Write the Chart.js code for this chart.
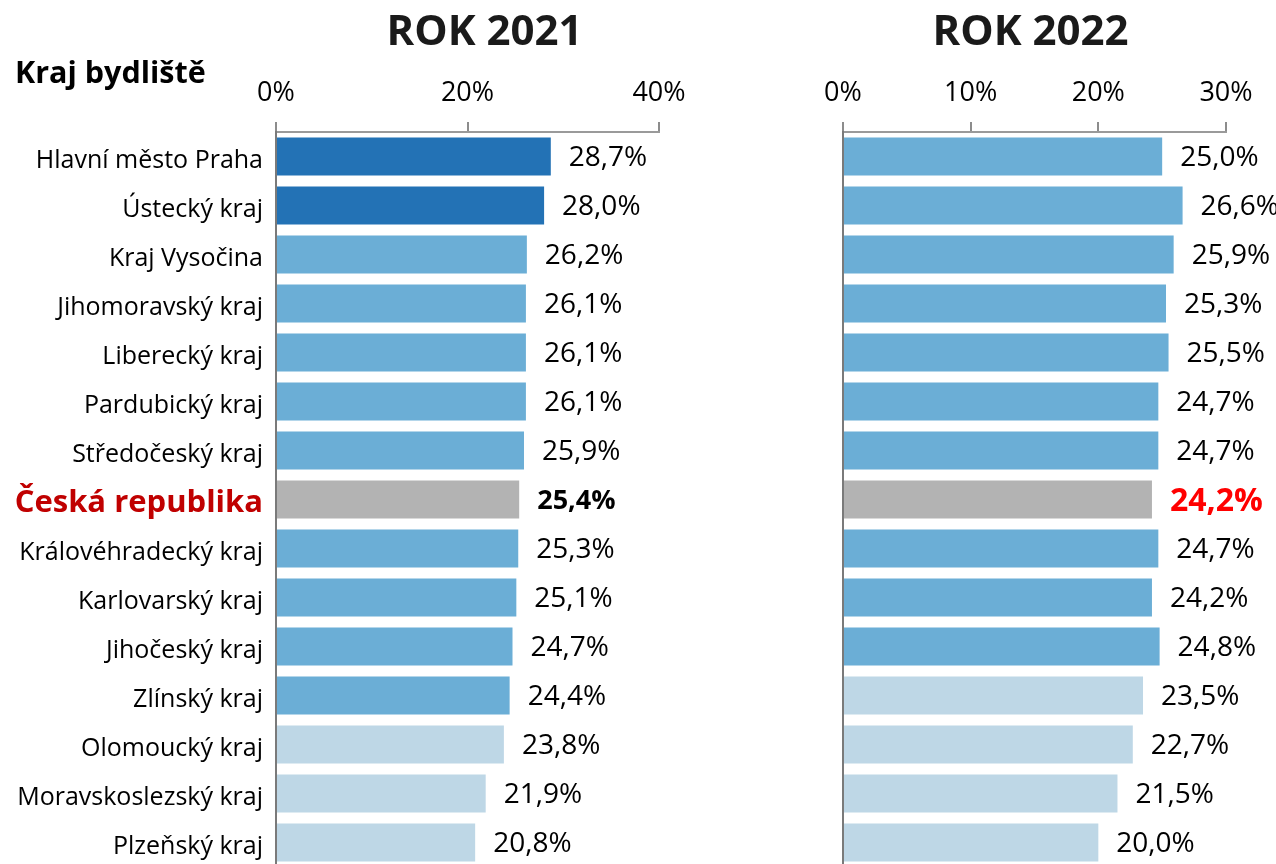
<!DOCTYPE html>
<html>
<head>
<meta charset="utf-8">
<script src="https://cdn.jsdelivr.net/npm/chart.js@4.4.1/dist/chart.umd.min.js"></script>
<style>
  body { margin: 0; overflow: hidden; background: #fff; width: 1276px; height: 864px; }
  #wrapLeft { position: absolute; left: 0; top: 0; }
  #wrapRight { position: absolute; left: 700px; top: 0; }
  #krajTitle { position: absolute; left: 15px; top: 56px; font: bold 30.5px "Open Sans"; line-height: 1; color: #000; }
</style>
</head>
<body>
<div id="wrapLeft"><canvas id="graf2021" width="700" height="867"></canvas></div>
<div id="wrapRight"><canvas id="graf2022" width="576" height="867"></canvas></div>
<div id="krajTitle">Kraj bydliště</div>
<script>
// kraje (poradi podle roku 2021)
var kraje = ["Hlavní město Praha", "Ústecký kraj", "Kraj Vysočina", "Jihomoravský kraj", "Liberecký kraj",
  "Pardubický kraj", "Středočeský kraj", "Česká republika", "Královéhradecký kraj", "Karlovarský kraj",
  "Jihočeský kraj", "Zlínský kraj", "Olomoucký kraj", "Moravskoslezský kraj", "Plzeňský kraj"];

// podil v % pro rok 2021 a 2022
var hodnoty2021 = [28.7, 28.0, 26.2, 26.1, 26.1, 26.1, 25.9, 25.4, 25.3, 25.1, 24.7, 24.4, 23.8, 21.9, 20.8];
var hodnoty2022 = [25.0, 26.6, 25.9, 25.3, 25.5, 24.7, 24.7, 24.2, 24.7, 24.2, 24.8, 23.5, 22.7, 21.5, 20.0];

// osa x
var osa2021 = { max: 40, krok: 20 };
var osa2022 = { max: 30, krok: 10 };

var CR = "Česká republika";
var pismo = "Open Sans";

//barva sloupce podle hodnoty
function barva(kraj, v) {
  if (kraj == CR) return "#B3B3B3";
  if (v >= 27) return "#2372B5";
  if (v >= 24) return "#6BAED6";
  return "#BED7E6";
}

function formatHodnota(v) {
  return v.toFixed(1).replace('.', ',') + '%';
}

//popisky na konci sloupcu + nadpis nad grafem
function popisky(titulek, posun, crBarva, crVelikost) {
  return {
    id: 'popisky',
    afterDatasetsDraw: function(chart) {
      var ctx = chart.ctx;
      var meta = chart.getDatasetMeta(0);
      var data = chart.data.datasets[0].data;
      meta.data.forEach(function(bar, i) {
        var jeCR = chart.data.labels[i] == CR;
        ctx.save();
        ctx.font = (jeCR ? 'bold ' + crVelikost : '28') + 'px "' + pismo + '"';
        ctx.fillStyle = jeCR ? crBarva : '#000';
        ctx.textAlign = 'left';
        ctx.textBaseline = 'middle';
        ctx.fillText(formatHodnota(data[i]), bar.x + 18, bar.y + 2);
        ctx.restore();
      });
    },
    afterDraw: function(chart) {
      var ctx = chart.ctx;
      var a = chart.chartArea;
      ctx.save();
      ctx.font = 'bold 42px "' + pismo + '"';
      ctx.fillStyle = '#1a1a1a';
      ctx.textAlign = 'center';
      ctx.textBaseline = 'middle';
      ctx.fillText(titulek, (a.left + a.right) / 2 + posun, 33);
      ctx.restore();
    }
  };
}

function graf(id, titulek, posun, hodnoty, osa, sirkaY, padRight, zobrazKraje, crBarva, crVelikost) {
  var ctx = document.getElementById(id).getContext('2d');
  return new Chart(ctx, {
    type: 'bar',
    data: {
      labels: kraje,
      datasets: [{
        data: hodnoty,
        backgroundColor: hodnoty.map(function(v, i) { return barva(kraje[i], v); }),
        barPercentage: 0.78,
        categoryPercentage: 1.0
      }]
    },
    options: {
      indexAxis: 'y',
      responsive: false,
      animation: false,
      devicePixelRatio: 1,
      layout: { padding: { left: 0, right: padRight, top: 56.4, bottom: 0 } },
      plugins: {
        legend: { display: false },
        tooltip: { enabled: false },
        title: { display: false }
      },
      scales: {
        x: {
          position: 'top',
          min: 0,
          max: osa.max,
          ticks: {
            stepSize: osa.krok,
            padding: 12,
            color: '#000',
            font: { family: pismo, size: 27 },
            callback: function(v) { return v + '%'; }
          },
          grid: { display: true, drawOnChartArea: false, drawTicks: true, tickLength: 10, color: '#8c8c8c', lineWidth: 2 },
          border: { display: true, color: '#9a9a9a', width: 2 },
          afterFit: function(scale) { scale.height = 75.6; }
        },
        y: {
          ticks: {
            display: zobrazKraje,
            autoSkip: false,
            padding: 5,
            labelOffset: 4,
            color: function(c) { return kraje[c.index] == CR ? '#C00000' : '#000'; },
            font: function(c) {
              return kraje[c.index] == CR
                ? { family: pismo, size: 31, weight: 'bold' }
                : { family: pismo, size: 25 };
            }
          },
          grid: { display: false },
          border: { display: true, color: '#7a7a7a', width: 2 },
          afterFit: function(scale) {
            scale.width = sirkaY;
            scale.paddingTop = 0;
            scale.paddingBottom = 0;
          }
        }
      }
    },
    plugins: [popisky(titulek, posun, crBarva, crVelikost)]
  });
}

graf('graf2021', 'ROK 2021', 17, hodnoty2021, osa2021, 276, 41, true, '#000', 27);
graf('graf2022', 'ROK 2022', -4, hodnoty2022, osa2022, 143, 50, false, '#FF0000', 32);
</script>
</body>
</html>
